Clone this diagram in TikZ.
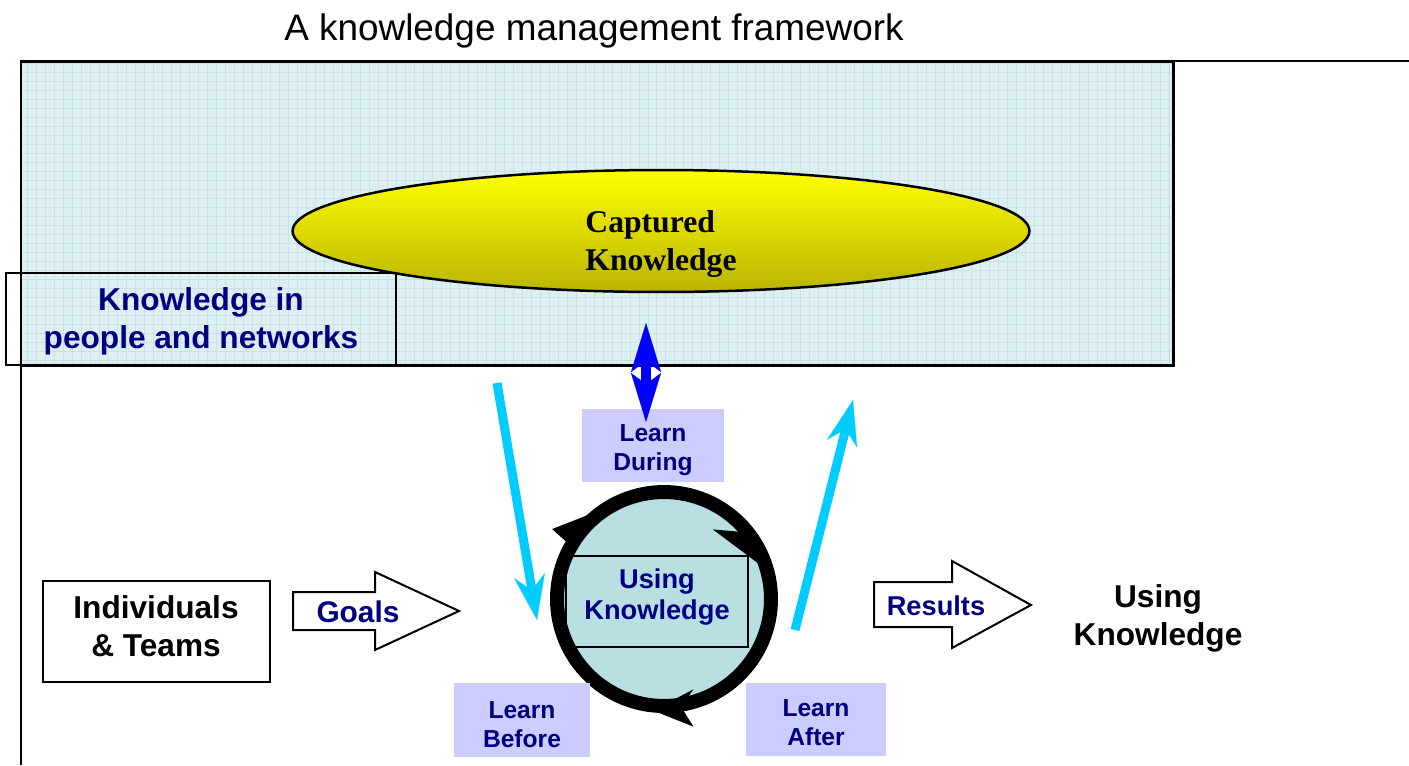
\documentclass[tikz,border=0pt]{standalone}
\usepackage{fontspec}
\setmainfont{Liberation Sans}
\newfontfamily\capfont{Liberation Serif}
\usetikzlibrary{arrows.meta,shapes.geometric}

\definecolor{navy}{RGB}{0,0,128}
\definecolor{lilac}{RGB}{204,204,255}
\definecolor{skyarrow}{RGB}{0,204,255}
\definecolor{poolfill}{RGB}{221,239,240}
\definecolor{poolgrid}{RGB}{196,228,230}
\definecolor{ringfill}{RGB}{184,224,226}
\definecolor{ellbottom}{RGB}{185,180,0}

\begin{document}
\begin{tikzpicture}[x=0.02cm,y=0.02cm,
	lbl/.style={font=\fontsize{18}{21.5}\selectfont\bfseries,align=center,inner sep=0},
	learnbox/.style={fill=lilac,inner sep=0},
	learntxt/.style={text=navy,font=\fontsize{14}{16.5}\selectfont\bfseries,align=center,inner sep=0},
	blockarrow/.style={draw,line width=0.04cm,fill=white,line join=miter},
	sky/.style={draw=skyarrow,line width=0.18cm,-{Stealth[length=0.9cm,width=0.62cm,inset=0.3cm,line width=0.1pt]}}]
	\useasboundingbox (0,0) rectangle (1409,-765);
	\node[font=\fontsize{21}{25}\selectfont] (title) at (594,-31) {A knowledge management framework};
	% shared knowledge pool
	\fill[poolfill] (21,-61) rectangle (1173,-365);
	\draw[poolgrid,line width=0.4pt,step=0.18cm] (21,-61) grid (1173,-365);
	\draw[line width=0.06cm] (21,-61) rectangle (1173,-365);
	\draw[line width=0.04cm] (1173,-61) -- (1409,-61);
	\draw[line width=0.04cm] (21,-365) -- (21,-765);
	\node[ellipse,draw,line width=0.05cm,top color=yellow,bottom color=ellbottom,minimum width=14.74cm,minimum height=2.44cm] (store) at (661,-231) {};
	\node[font=\capfont\fontsize{18}{21.5}\selectfont\bfseries,align=left,inner sep=0] (storetxt) at (661,-244) {Captured\\Knowledge};
	\draw[line width=0.03cm] (6,-273) rectangle (396,-365);
	\node[lbl,text=navy] (people) at (201,-321) {Knowledge in\\people and networks};
	% flows in and out of the pool
	\coordinate (inA) at (497,-383);
	\coordinate (inB) at (537,-620);
	\coordinate (outA) at (795,-630);
	\coordinate (outB) at (853,-400);
	\draw[sky] (inA) -- (inB);
	\draw[sky] (outA) -- (outB);
	% learning cycle
	\node[circle,draw,line width=0.28cm,fill=ringfill,minimum size=4.28cm,inner sep=0] (wheel) at (664,-599) {};
	\begin{scope}[shift={(wheel.center)}]
		\fill (148:132) -- (127:110) -- (151:101) -- cycle;
		\fill (55:85) -- (40:104) -- (18:104) -- cycle;
		\fill (-77:131) -- (-100:110) -- (-83:101) -- cycle;
		\fill (-72:95) -- (-88:104) -- (-78:104) -- cycle;
	\end{scope}
	\draw[line width=0.04cm] (566,-556) rectangle (748,-647);
	\node[text=navy,font=\fontsize{15.5}{18}\selectfont\bfseries,align=center,inner sep=0] (using) at (657,-597) {Using\\Knowledge};
	\node[learnbox,minimum width=2.86cm,minimum height=1.46cm] (during) at (653,-445) {};
	\node[learntxt] (duringtxt) at ([yshift=-0.1cm]during.center) {Learn\\During};
	\node[learnbox,minimum width=2.72cm,minimum height=1.48cm] (before) at (522,-720) {};
	\node[learntxt] (beforetxt) at ([yshift=-0.1cm]before.center) {Learn\\Before};
	\node[learnbox,minimum width=2.8cm,minimum height=1.46cm] (after) at (816,-719) {};
	\node[learntxt] (aftertxt) at ([yshift=-0.07cm]after.center) {Learn\\After};
	\coordinate (capA) at (646,-323);
	\coordinate (capB) at (646,-422);
	\draw[blue,line width=0.2cm,{Stealth[length=0.98cm,width=0.6cm,inset=0.22cm,line width=0.1pt]}-{Stealth[length=0.98cm,width=0.6cm,inset=0.22cm,line width=0.1pt]}] (capA) -- (capB);
	% goals in, results out
	\draw[line width=0.03cm] (43,-581) rectangle (270,-682);
	\node[lbl] (team) at (156,-626) {Individuals\\\& Teams};
	\draw[blockarrow] (293,-592) -- (375,-592) -- (375,-572) -- (459,-611) -- (375,-650) -- (375,-630) -- (293,-630) -- cycle;
	\node[lbl,text=navy,font=\fontsize{17}{20}\selectfont\bfseries] (goals) at (358,-612) {Goals};
	\draw[blockarrow] (874,-582) -- (952,-582) -- (952,-561) -- (1031,-605) -- (952,-648) -- (952,-627) -- (874,-627) -- cycle;
	\node[lbl,text=navy,font=\fontsize{15.5}{18}\selectfont\bfseries] (results) at (936,-606) {Results};
	\node[lbl] (result) at (1158,-618) {Using\\Knowledge};
\end{tikzpicture}
\end{document}
